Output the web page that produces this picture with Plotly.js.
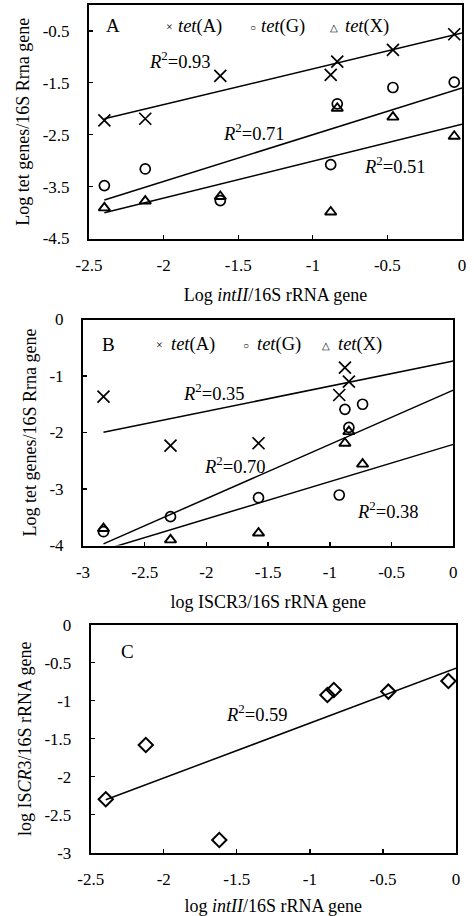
<!DOCTYPE html>
<html>
<head>
<meta charset="utf-8">
<script src="https://cdn.plot.ly/plotly-3.0.1.min.js"></script>
<style>html,body{margin:0;padding:0;background:#fff;}#chart{width:474px;height:916px;}</style>
</head>
<body>
<div id="chart"></div>
<script>
// ---------- data ----------
// Panel A: log intI1/16S (x) vs log tet genes/16S (y)
const intI1 = [-2.397, -2.123, -1.620, -0.880, -0.836, -0.463, -0.052];
const tetA_vsInt = [-2.225, -2.192, -1.365, -1.346, -1.090, -0.865, -0.564];
const tetG_vsInt = [-3.480, -3.160, -3.770, -3.077, -1.904, -1.590, -1.487];
const tetX_vsInt = [-3.910, -3.780, -3.690, -3.990, -1.990, -2.160, -2.530];
const fitSlopeA = [0.69, 0.90, 0.71];
const fitInterceptA = [-0.54, -1.60, -2.30];
const r2A = ['0.93', '0.71', '0.51'];

// Panel B: log ISCR3/16S (x) vs log tet genes/16S (y)
const iscr_tetA = [-2.834, -2.291, -1.578, -0.924, -0.846, -0.878];
const tetA_vsIscr = [-1.366, -2.234, -2.190, -1.336, -1.100, -0.853];
const iscr_tetG = [-2.834, -2.291, -1.578, -0.924, -0.846, -0.878, -0.735];
const tetG_vsIscr = [-3.756, -3.490, -3.154, -3.106, -1.910, -1.590, -1.500];
const iscr_tetX = [-2.834, -2.291, -1.578, -0.846, -0.878, -0.735];
const tetX_vsIscr = [-3.700, -3.900, -3.780, -1.985, -2.190, -2.560];
const fitSlopeB = [0.445, 0.96, 0.66];
const fitInterceptB = [-0.735, -1.25, -2.21];
const r2B = ['0.35', '0.70', '0.38'];

// Panel C: log intI1/16S (x) vs log ISCR3/16S (y)
const iscr3 = [-2.297, -1.583, -2.833, -0.925, -0.859, -0.880, -0.740];
const fitSlopeC = [0.7215];
const fitInterceptC = [-0.574];
const r2C = ['0.59'];

// tick labels
const xTicksA = [-2.5, -2, -1.5, -1, -0.5, 0];
const xTickTextA = ['-2.5', '-2', '-1.5', '-1', '-0.5', '0'];
const yTicksA = [-4.5, -3.5, -2.5, -1.5, -0.5];
const yTickTextA = ['-4.5', '-3.5', '-2.5', '-1.5', '-0.5'];
const xTicksB = [-3, -2.5, -2, -1.5, -1, -0.5, 0];
const xTickTextB = ['-3', '-2.5', '-2', '-1.5', '-1', '-0.5', '0'];
const yTicksB = [-4, -3, -2, -1, 0];
const yTickTextB = ['-4', '-3', '-2', '-1', '0'];
const yTicksC = [-3, -2.5, -2, -1.5, -1, -0.5, 0];
const yTickTextC = ['-3', '-2.5', '-2', '-1.5', '-1', '-0.5', '0'];

const seriesNames = ['<i>tet</i>(A)', '<i>tet</i>(G)', '<i>tet</i>(X)'];
const legendGlyphs = ['×', '○', '△'];

// ---------- styling ----------
const FONT = 'Liberation Serif, Times New Roman, serif';
const sym = {
  x: {symbol: 'x-thin-open', size: 12, line: {color: '#000', width: 1.7}, color: '#000'},
  o: {symbol: 'circle-open', size: 10, line: {color: '#000', width: 1.7}, color: '#000'},
  t: {symbol: 'triangle-up-open', size: 10, line: {color: '#000', width: 1.9}, color: '#000'},
  d: {symbol: 'diamond-open', size: 11, line: {color: '#000', width: 2}, color: '#000'}
};
function pts(x, y, m, xa, ya, name) {
  return {type: 'scatter', mode: 'markers', x: x, y: y, marker: m, xaxis: xa, yaxis: ya, name: name, cliponaxis: false};
}
function fitLine(xs, slope, intercept, xa, ya) {
  const x0 = Math.min.apply(null, xs);
  const lx = [x0, 0];
  return {type: 'scatter', mode: 'lines', x: lx, y: lx.map(v => slope * v + intercept),
          line: {color: '#000', width: 1.5}, xaxis: xa, yaxis: ya, hoverinfo: 'skip'};
}

const traces = [
  fitLine(intI1, fitSlopeA[0], fitInterceptA[0], 'x', 'y'),
  fitLine(intI1, fitSlopeA[1], fitInterceptA[1], 'x', 'y'),
  fitLine(intI1, fitSlopeA[2], fitInterceptA[2], 'x', 'y'),
  pts(intI1, tetA_vsInt, sym.x, 'x', 'y', seriesNames[0]),
  pts(intI1, tetG_vsInt, sym.o, 'x', 'y', seriesNames[1]),
  pts(intI1, tetX_vsInt, sym.t, 'x', 'y', seriesNames[2]),

  fitLine(iscr_tetG, fitSlopeB[0], fitInterceptB[0], 'x2', 'y2'),
  fitLine(iscr_tetG, fitSlopeB[1], fitInterceptB[1], 'x2', 'y2'),
  fitLine(iscr_tetG, fitSlopeB[2], fitInterceptB[2], 'x2', 'y2'),
  pts(iscr_tetA, tetA_vsIscr, sym.x, 'x2', 'y2', seriesNames[0]),
  pts(iscr_tetG, tetG_vsIscr, sym.o, 'x2', 'y2', seriesNames[1]),
  pts(iscr_tetX, tetX_vsIscr, sym.t, 'x2', 'y2', seriesNames[2]),

  fitLine(intI1, fitSlopeC[0], fitInterceptC[0], 'x3', 'y3'),
  pts(intI1, iscr3, sym.d, 'x3', 'y3', 'ISCR3')
];

const W = 474, H = 916;
function dx(l, r) { return [l / W, r / W]; }
function dy(t, b) { return [1 - b / H, 1 - t / H]; }

function xax(domain, range, tv, tt, anchor, title) {
  return {domain: domain, range: range, tickvals: tv, ticktext: tt, ticks: 'inside', ticklen: 4,
    tickwidth: 1.3, tickcolor: '#000', showline: true, mirror: true, linewidth: 2, linecolor: '#000',
    showgrid: false, zeroline: false, anchor: anchor, ticklabelstandoff: 10,
    tickfont: {family: FONT, size: 17, color: '#000'},
    title: {text: title, font: {family: FONT, size: 18, color: '#000'}, standoff: 14}};
}
function yax(domain, range, tv, tt, anchor, title) {
  return {domain: domain, range: range, tickvals: tv, ticktext: tt, ticks: 'inside', ticklen: 4,
    tickwidth: 1.3, tickcolor: '#000', showline: true, mirror: true, linewidth: 2, linecolor: '#000',
    showgrid: false, zeroline: false, anchor: anchor, ticklabelstandoff: 14,
    tickfont: {family: FONT, size: 17, color: '#000'},
    title: {text: title, font: {family: FONT, size: 18, color: '#000'}, standoff: 8}};
}

function ann(text, x, y, xref, yref, size, xanchor) {
  return {text: text, x: x, y: y, xref: xref, yref: yref, showarrow: false,
    xanchor: xanchor || 'center', yanchor: 'middle', font: {family: FONT, size: size, color: '#000'}};
}
function r2(v) { return '<i>R</i><sup>2</sup>=' + v; }

const annotations = [
  // Panel A
  ann('A', -2.337, -0.39, 'x', 'y', 19),
  ann(legendGlyphs[0], -1.963, -0.43, 'x', 'y', 12),
  ann(seriesNames[0], -1.915, -0.42, 'x', 'y', 18.5, 'left'),
  ann(legendGlyphs[1], -1.401, -0.43, 'x', 'y', 10),
  ann(seriesNames[1], -1.36, -0.42, 'x', 'y', 18.5, 'left'),
  ann(legendGlyphs[2], -0.859, -0.43, 'x', 'y', 10),
  ann(seriesNames[2], -0.796, -0.42, 'x', 'y', 18.5, 'left'),
  ann(r2(r2A[0]), -2.11, -1.058, 'x', 'y', 18.5, 'left'),
  ann(r2(r2A[1]), -1.615, -2.442, 'x', 'y', 18.5, 'left'),
  ann(r2(r2A[2]), -0.672, -3.077, 'x', 'y', 18.5, 'left'),
  // Panel B
  ann('B', -2.795, -0.451, 'x2', 'y2', 19),
  ann(legendGlyphs[0], -2.38, -0.46, 'x2', 'y2', 12),
  ann(seriesNames[0], -2.30, -0.451, 'x2', 'y2', 18.5, 'left'),
  ann(legendGlyphs[1], -1.677, -0.46, 'x2', 'y2', 10),
  ann(seriesNames[1], -1.606, -0.451, 'x2', 'y2', 18.5, 'left'),
  ann(legendGlyphs[2], -1.028, -0.46, 'x2', 'y2', 10),
  ann(seriesNames[2], -0.947, -0.451, 'x2', 'y2', 18.5, 'left'),
  ann(r2(r2B[0]), -2.21, -1.292, 'x2', 'y2', 18.5, 'left'),
  ann(r2(r2B[1]), -2.04, -2.575, 'x2', 'y2', 18.5, 'left'),
  ann(r2(r2B[2]), -0.80, -3.372, 'x2', 'y2', 18.5, 'left'),
  // Panel C
  ann('C', -2.245, -0.355, 'x3', 'y3', 19),
  ann(r2(r2C[0]), -1.585, -1.166, 'x3', 'y3', 18.5, 'left')
];

const layout = {
  width: W, height: H, margin: {l: 0, r: 0, t: 0, b: 0},
  paper_bgcolor: '#fff', plot_bgcolor: '#fff', showlegend: false,
  font: {family: FONT, size: 17, color: '#000'},
  xaxis: xax(dx(89, 462), [-2.5, 0], xTicksA, xTickTextA, 'y', 'Log <i>intII</i>/16S rRNA gene'),
  yaxis: yax(dy(5, 238.5), [-4.5, 0], yTicksA, yTickTextA, 'x', 'Log tet genes/16S Rrna gene'),
  xaxis2: xax(dx(83, 453.3), [-3, 0], xTicksB, xTickTextB, 'y2', 'log ISCR3/16S rRNA gene'),
  yaxis2: yax(dy(319.5, 545.5), [-4, 0], yTicksB, yTickTextB, 'x2', 'Log tet genes/16S Rrna gene'),
  xaxis3: xax(dx(90.7, 456), [-2.5, 0], xTicksA, xTickTextA, 'y3', 'log <i>intII</i>/16S rRNA gene'),
  yaxis3: yax(dy(624.7, 852.7), [-3, 0], yTicksC, yTickTextC, 'x3', 'log IS<i>CR</i>3/16S rRNA gene'),
  annotations: annotations
};

Plotly.newPlot('chart', traces, layout, {staticPlot: true, displayModeBar: false});
</script>
</body>
</html>
